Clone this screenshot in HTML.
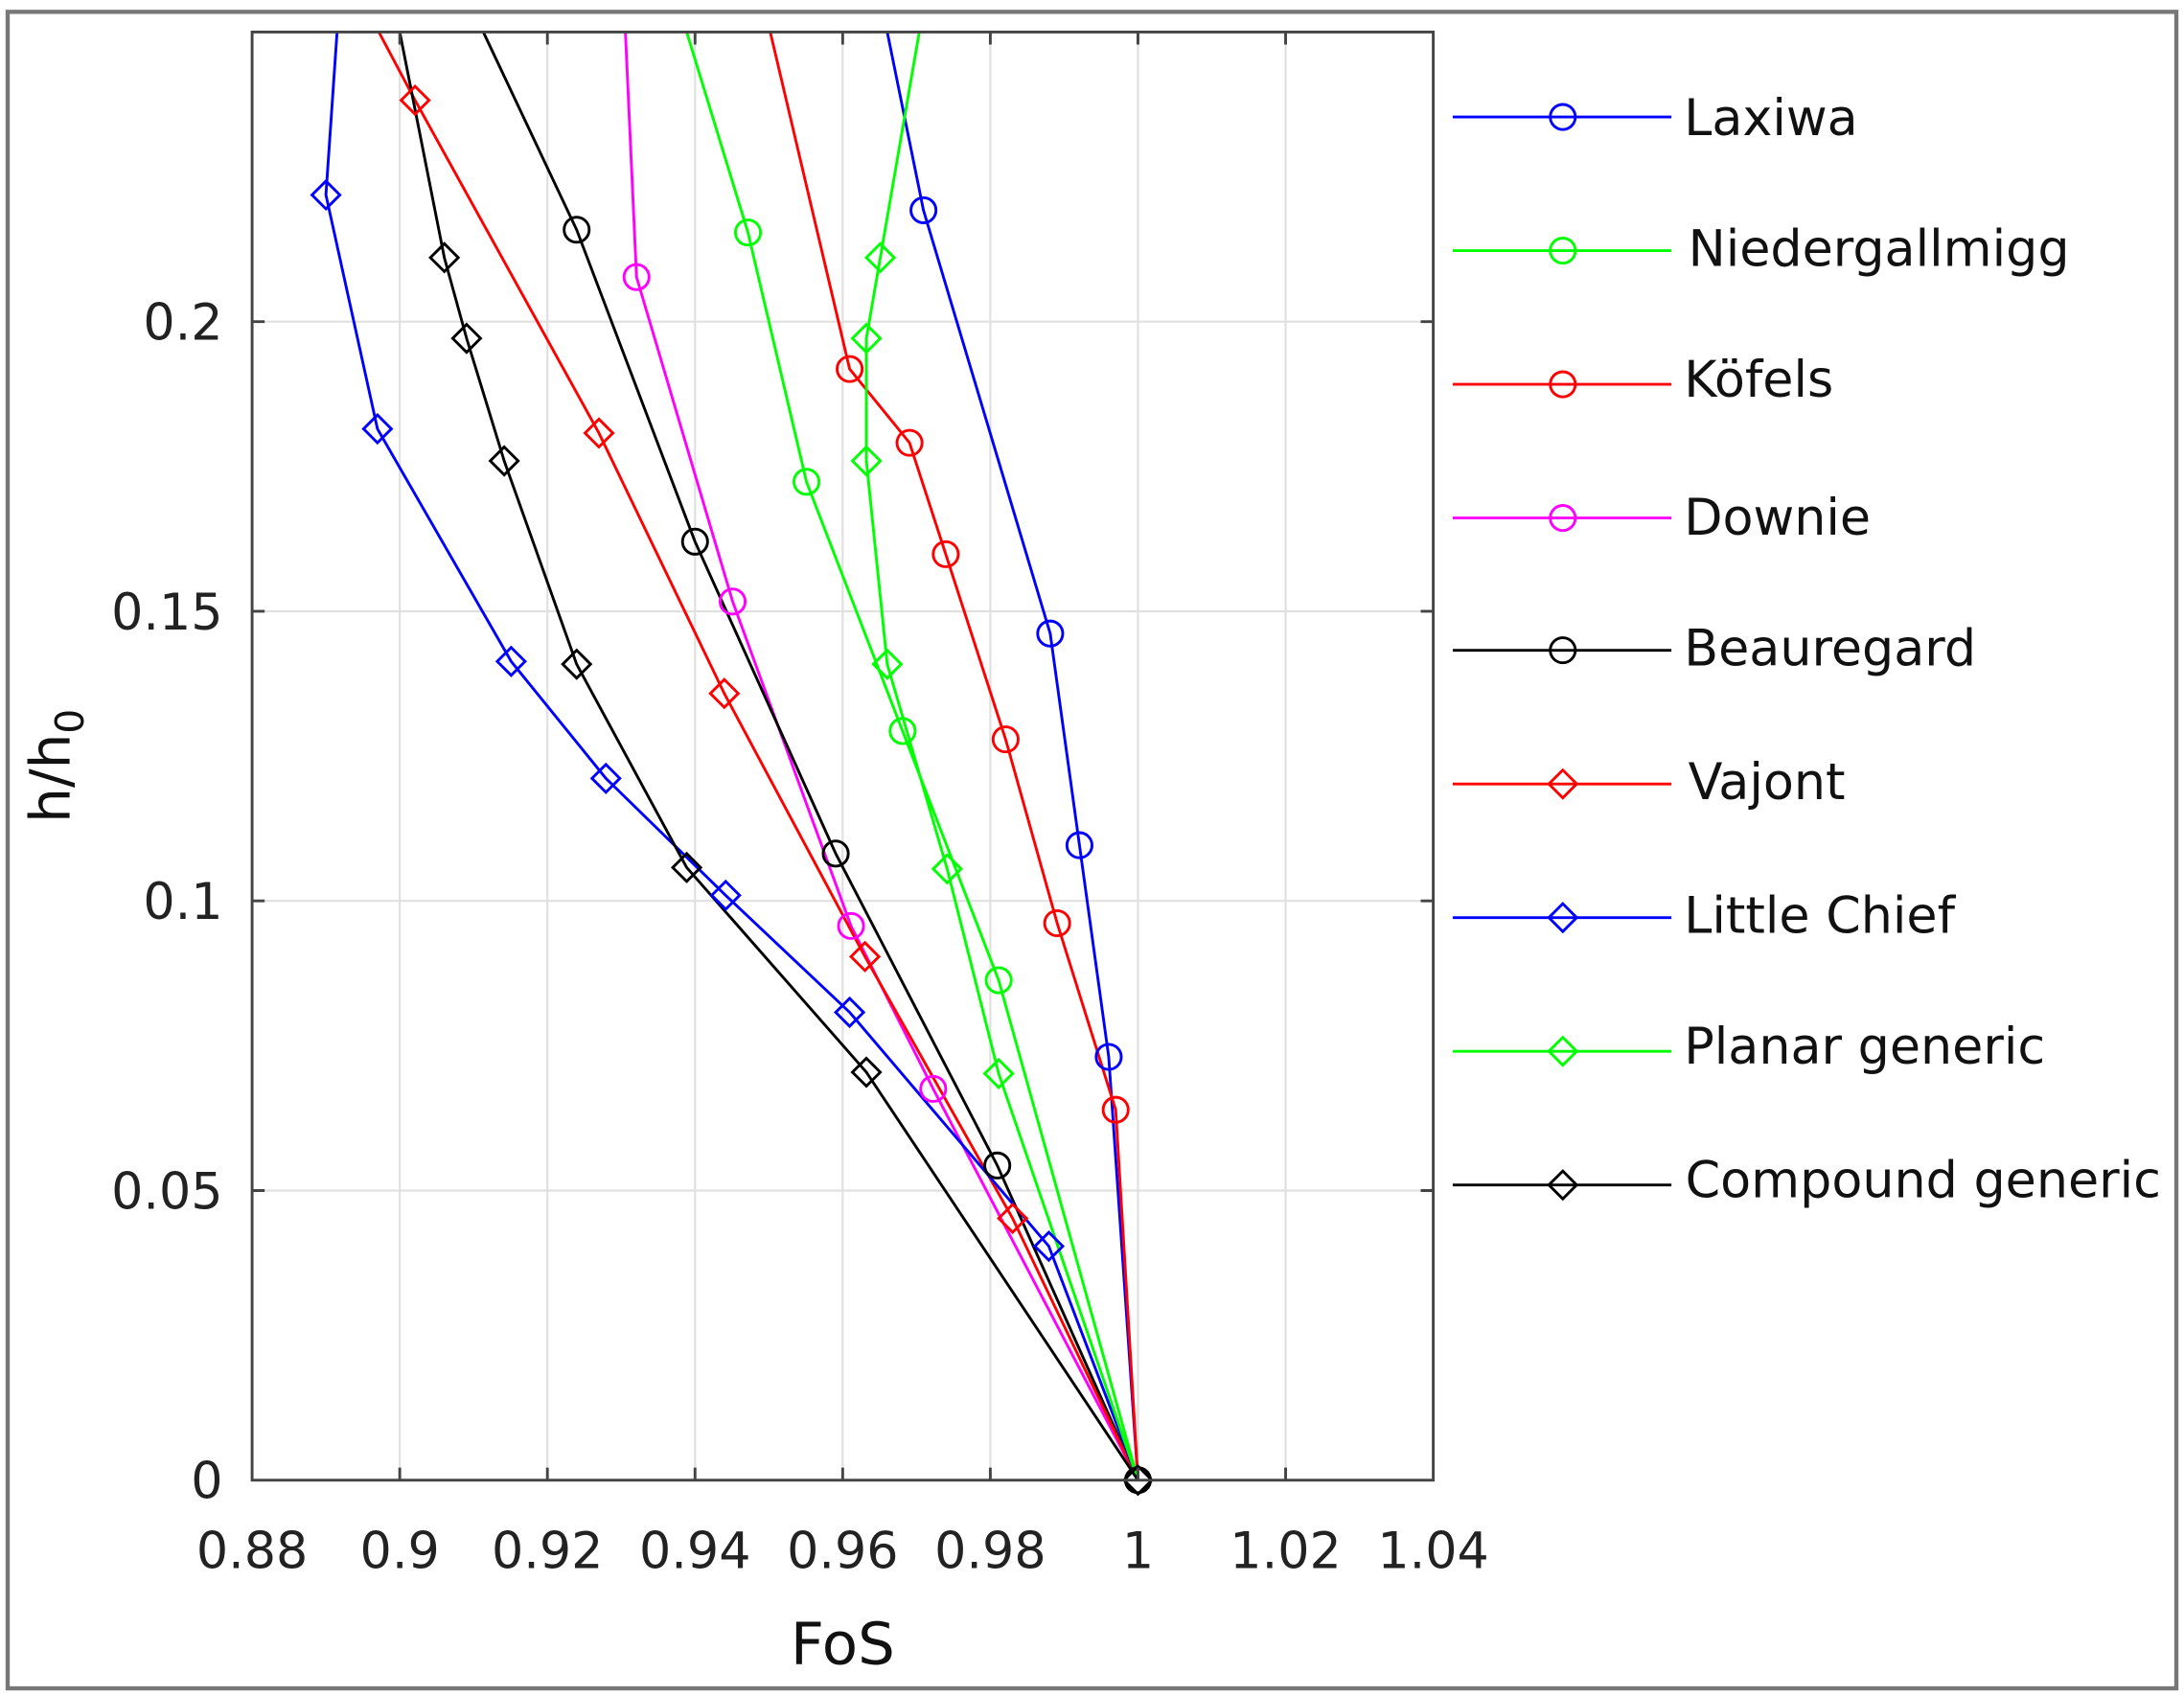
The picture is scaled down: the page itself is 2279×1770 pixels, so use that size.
<!DOCTYPE html>
<html><head><meta charset="utf-8"><style>html,body{margin:0;padding:0;background:#fff}svg{display:block}</style></head>
<body>
<svg width="2279" height="1770" viewBox="0 0 1568 1218" preserveAspectRatio="none" xmlns="http://www.w3.org/2000/svg" font-family="'DejaVu Sans', 'Liberation Sans', sans-serif">
<rect x="0" y="0" width="1568" height="1218" fill="#fff"/>
<rect x="5.5" y="8.5" width="1557" height="1204" fill="none" stroke="#777" stroke-width="3"/>
<defs><clipPath id="c"><rect x="181" y="23" width="848" height="1040"/></clipPath></defs>
<g stroke="#e0e0e0" stroke-width="1.5">
<line x1="287" y1="23" x2="287" y2="1063"/><line x1="393" y1="23" x2="393" y2="1063"/><line x1="499" y1="23" x2="499" y2="1063"/><line x1="605" y1="23" x2="605" y2="1063"/><line x1="711" y1="23" x2="711" y2="1063"/><line x1="817" y1="23" x2="817" y2="1063"/><line x1="923" y1="23" x2="923" y2="1063"/>
<line x1="181" y1="231" x2="1029" y2="231"/><line x1="181" y1="439" x2="1029" y2="439"/><line x1="181" y1="647" x2="1029" y2="647"/><line x1="181" y1="855" x2="1029" y2="855"/>
</g>
<g fill="none" stroke-width="2" clip-path="url(#c)">
<polyline stroke="#00f" points="637,23 663,151 754,455 775,607 796,759 817,1063"/>
<polyline stroke="#0f0" points="493,23 537,167 579,346 648,525 717,704 817,1063"/>
<polyline stroke="#f00" points="553,23 610,265 653,318 679,398 722,531 759,663 801,797 817,1063"/>
<polyline stroke="#f0f" points="449,23 457,199 526,432 611,665 670,782 817,1063"/>
<polyline stroke="#000" points="347,23 414,165 499,389 600,613 716,837 817,1063"/>
<polyline stroke="#f00" points="272,23 298,72 430,311 520,498 621,687 727,875 817,1063"/>
<polyline stroke="#00f" points="242,23 234,140 271,308 367,475 435,559 521,643 610,727 753,895 817,1063"/>
<polyline stroke="#0f0" points="660,23 632,185 622,243 622,331 637,477 680,624 717,771 817,1063"/>
<polyline stroke="#000" points="287,23 319,185 335,243 362,331 414,477 493,623 622,770 817,1063"/>
</g>
<g fill="none" stroke-width="2">
<g stroke="#00f"><circle cx="663" cy="151" r="9"/><circle cx="754" cy="455" r="9"/><circle cx="775" cy="607" r="9"/><circle cx="796" cy="759" r="9"/></g>
<g stroke="#0f0"><circle cx="537" cy="167" r="9"/><circle cx="579" cy="346" r="9"/><circle cx="648" cy="525" r="9"/><circle cx="717" cy="704" r="9"/></g>
<g stroke="#f00"><circle cx="610" cy="265" r="9"/><circle cx="653" cy="318" r="9"/><circle cx="679" cy="398" r="9"/><circle cx="722" cy="531" r="9"/><circle cx="759" cy="663" r="9"/><circle cx="801" cy="797" r="9"/></g>
<g stroke="#f0f"><circle cx="457" cy="199" r="9"/><circle cx="526" cy="432" r="9"/><circle cx="611" cy="665" r="9"/><circle cx="670" cy="782" r="9"/></g>
<g stroke="#000"><circle cx="414" cy="165" r="9"/><circle cx="499" cy="389" r="9"/><circle cx="600" cy="613" r="9"/><circle cx="716" cy="837" r="9"/><circle cx="817" cy="1063" r="9"/></g>
<g stroke="#f00"><path d="M298 62l10 10-10 10-10-10z"/><path d="M430 301l10 10-10 10-10-10z"/><path d="M520 488l10 10-10 10-10-10z"/><path d="M621 677l10 10-10 10-10-10z"/><path d="M727 865l10 10-10 10-10-10z"/></g>
<g stroke="#00f"><path d="M234 130l10 10-10 10-10-10z"/><path d="M271 298l10 10-10 10-10-10z"/><path d="M367 465l10 10-10 10-10-10z"/><path d="M435 549l10 10-10 10-10-10z"/><path d="M521 633l10 10-10 10-10-10z"/><path d="M610 717l10 10-10 10-10-10z"/><path d="M753 885l10 10-10 10-10-10z"/></g>
<g stroke="#0f0"><path d="M632 175l10 10-10 10-10-10z"/><path d="M622 233l10 10-10 10-10-10z"/><path d="M622 321l10 10-10 10-10-10z"/><path d="M637 467l10 10-10 10-10-10z"/><path d="M680 614l10 10-10 10-10-10z"/><path d="M717 761l10 10-10 10-10-10z"/></g>
<g stroke="#000"><path d="M319 175l10 10-10 10-10-10z"/><path d="M335 233l10 10-10 10-10-10z"/><path d="M362 321l10 10-10 10-10-10z"/><path d="M414 467l10 10-10 10-10-10z"/><path d="M493 613l10 10-10 10-10-10z"/><path d="M622 760l10 10-10 10-10-10z"/><path d="M817 1053l10 10-10 10-10-10z"/></g>
</g>
<rect x="181" y="23" width="848" height="1040" fill="none" stroke="#444" stroke-width="2"/>
<g stroke="#444" stroke-width="2">
<path d="M287 1063v-9M393 1063v-9M499 1063v-9M605 1063v-9M711 1063v-9M817 1063v-9M923 1063v-9M287 23v9M393 23v9M499 23v9M605 23v9M711 23v9M817 23v9M923 23v9"/>
<path d="M181 231h9M181 439h9M181 647h9M181 855h9M1029 231h-9M1029 439h-9M1029 647h-9M1029 855h-9"/>
</g>
<g font-size="36" fill="#222" text-anchor="middle">
<text x="181" y="1126">0.88</text><text x="287" y="1126">0.9</text><text x="393" y="1126">0.92</text><text x="499" y="1126">0.94</text><text x="605" y="1126">0.96</text><text x="711" y="1126">0.98</text><text x="817" y="1126">1</text><text x="923" y="1126">1.02</text><text x="1029" y="1126">1.04</text>
</g>
<g font-size="36" fill="#222" text-anchor="end">
<text x="160" y="244">0.2</text><text x="160" y="452">0.15</text><text x="160" y="660">0.1</text><text x="160" y="868">0.05</text><text x="160" y="1076">0</text>
</g>
<text x="605" y="1195" font-size="42" fill="#111" text-anchor="middle">FoS</text>
<text transform="translate(50,550) rotate(-90)" font-size="40" fill="#111" text-anchor="middle">h/h<tspan font-size="28" dy="10">0</tspan></text>
<g fill="none" stroke-width="2">
<g stroke="#00f"><line x1="1043" y1="84" x2="1200" y2="84"/><circle cx="1122" cy="84" r="9"/></g>
<g stroke="#0f0"><line x1="1043" y1="180" x2="1200" y2="180"/><circle cx="1122" cy="180" r="9"/></g>
<g stroke="#f00"><line x1="1043" y1="276" x2="1200" y2="276"/><circle cx="1122" cy="276" r="9"/></g>
<g stroke="#f0f"><line x1="1043" y1="372" x2="1200" y2="372"/><circle cx="1122" cy="372" r="9"/></g>
<g stroke="#000"><line x1="1043" y1="467" x2="1200" y2="467"/><circle cx="1122" cy="467" r="9"/></g>
<g stroke="#f00"><line x1="1043" y1="563" x2="1200" y2="563"/><path d="M1122 553l10 10-10 10-10-10z"/></g>
<g stroke="#00f"><line x1="1043" y1="659" x2="1200" y2="659"/><path d="M1122 649l10 10-10 10-10-10z"/></g>
<g stroke="#0f0"><line x1="1043" y1="755" x2="1200" y2="755"/><path d="M1122 745l10 10-10 10-10-10z"/></g>
<g stroke="#000"><line x1="1043" y1="851" x2="1200" y2="851"/><path d="M1122 841l10 10-10 10-10-10z"/></g>
</g>
<g font-size="36" fill="#111">
<text x="1209" y="97">Laxiwa</text><text x="1212" y="191">Niedergallmigg</text><text x="1209" y="285">Köfels</text><text x="1209" y="384">Downie</text><text x="1209" y="478">Beauregard</text><text x="1212" y="574">Vajont</text><text x="1209" y="670">Little Chief</text><text x="1209" y="764">Planar generic</text><text x="1210" y="860">Compound generic</text>
</g>
</svg>
</body></html>
